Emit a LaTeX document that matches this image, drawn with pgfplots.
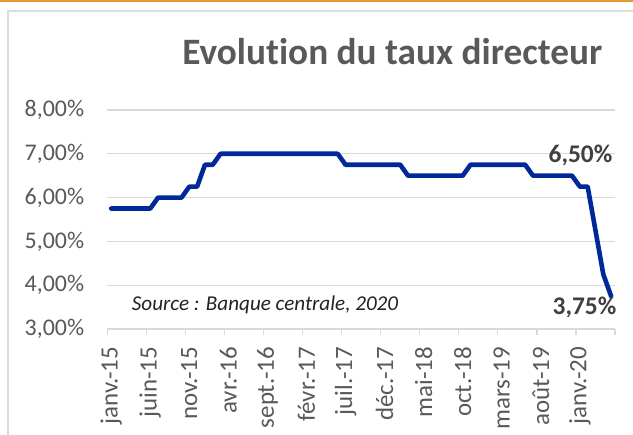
\documentclass[border=0pt]{standalone}
\usepackage{fontspec}
\setmainfont{Carlito}[Ligatures=NoCommon]
\usepackage{pgfplots}
\pgfplotsset{compat=1.18}
\usepackage{pgfplotstable}
\definecolor{txtgray}{RGB}{89,89,89}
\definecolor{lblgray}{RGB}{64,64,64}
\definecolor{srcgray}{RGB}{35,35,35}
\definecolor{gridgray}{RGB}{217,217,217}
\definecolor{framegray}{RGB}{220,220,220}
\definecolor{lineblue}{RGB}{0,40,153}
\definecolor{orangebar}{RGB}{226,155,52}

\pgfplotstableread{
m r
0 5.75
1 5.75
2 5.75
3 5.75
4 5.75
5 5.75
6 6.00
7 6.00
8 6.00
9 6.00
10 6.25
11 6.25
12 6.75
13 6.75
14 7.00
15 7.00
16 7.00
17 7.00
18 7.00
19 7.00
20 7.00
21 7.00
22 7.00
23 7.00
24 7.00
25 7.00
26 7.00
27 7.00
28 7.00
29 7.00
30 6.75
31 6.75
32 6.75
33 6.75
34 6.75
35 6.75
36 6.75
37 6.75
38 6.50
39 6.50
40 6.50
41 6.50
42 6.50
43 6.50
44 6.50
45 6.50
46 6.75
47 6.75
48 6.75
49 6.75
50 6.75
51 6.75
52 6.75
53 6.75
54 6.50
55 6.50
56 6.50
57 6.50
58 6.50
59 6.50
60 6.25
61 6.25
62 5.25
63 4.25
64 3.75
}\rates

\begin{document}
\begin{tikzpicture}[x=1bp,y=1bp]
\fill[white] (0,0) rectangle (633,435);
\useasboundingbox (0,0) rectangle (633,435);
\draw[orangebar, line width=2.6bp] (0,434.2) -- (633,434.2);
\draw[framegray, line width=2bp] (8.3,-10) -- (8.3,423.5) -- (650,423.5);
\node[font=\fontsize{37.4}{44}\selectfont\bfseries, text=txtgray, anchor=base west, inner sep=0] at (182.2,370.7) {Evolution du taux directeur};
\begin{axis}[
  at={(107.3bp,106bp)}, anchor=south west,
  scale only axis, width=507.7bp, height=219bp,
  xmin=-0.5, xmax=64.5, ymin=3, ymax=8,
  clip=false,
  separate axis lines,
  axis x line*=bottom, axis y line*=left,
  x axis line style={draw=gridgray, line width=1.3bp, -},
  y axis line style={draw=none, -},
  ymajorgrids, grid style={gridgray, line width=1.3bp},
  ytick={3,4,5,6,7,8},
  yticklabels={{3,00\%},{4,00\%},{5,00\%},{6,00\%},{7,00\%},{8,00\%}},
  ytick style={draw=none},
  yticklabel style={font=\fontsize{24}{28}\selectfont, text=txtgray, inner sep=0pt, anchor=east},
  yticklabel shift=23bp,
  xtick={0,5,...,60},
  xticklabels={janv.-15,juin-15,nov.-15,avr.-16,sept.-16,févr.-17,juil.-17,déc.-17,mai-18,oct.-18,mars-19,août-19,janv.-20},
  xtick style={draw=gridgray, line width=1.3bp},
  major tick length=0pt,
  xticklabel style={font=\fontsize{25}{28}\selectfont, text=txtgray, inner sep=0pt, rotate=90, anchor=east},
  xticklabel shift=17.7bp,
  extra x ticks={-0.5,4.5,...,64.5},
  extra x tick labels={},
  extra x tick style={major tick length=6bp, tick align=outside},
]
\addplot[lineblue, line width=4.6bp, line join=round, line cap=round] table[x=m, y=r] {\rates};
\node[font=\fontsize{25.5}{30}\selectfont\bfseries, text=lblgray] at (axis cs:60.08,6.97) {6,50\%};
\node[font=\fontsize{25.5}{30}\selectfont\bfseries, text=lblgray] at (axis cs:60.59,3.50) {3,75\%};
\node[font=\fontsize{21.2}{25}\selectfont\itshape, text=srcgray] at (axis cs:19.69,3.55) {Source : Banque centrale, 2020};
\end{axis}
\end{tikzpicture}
\end{document}
